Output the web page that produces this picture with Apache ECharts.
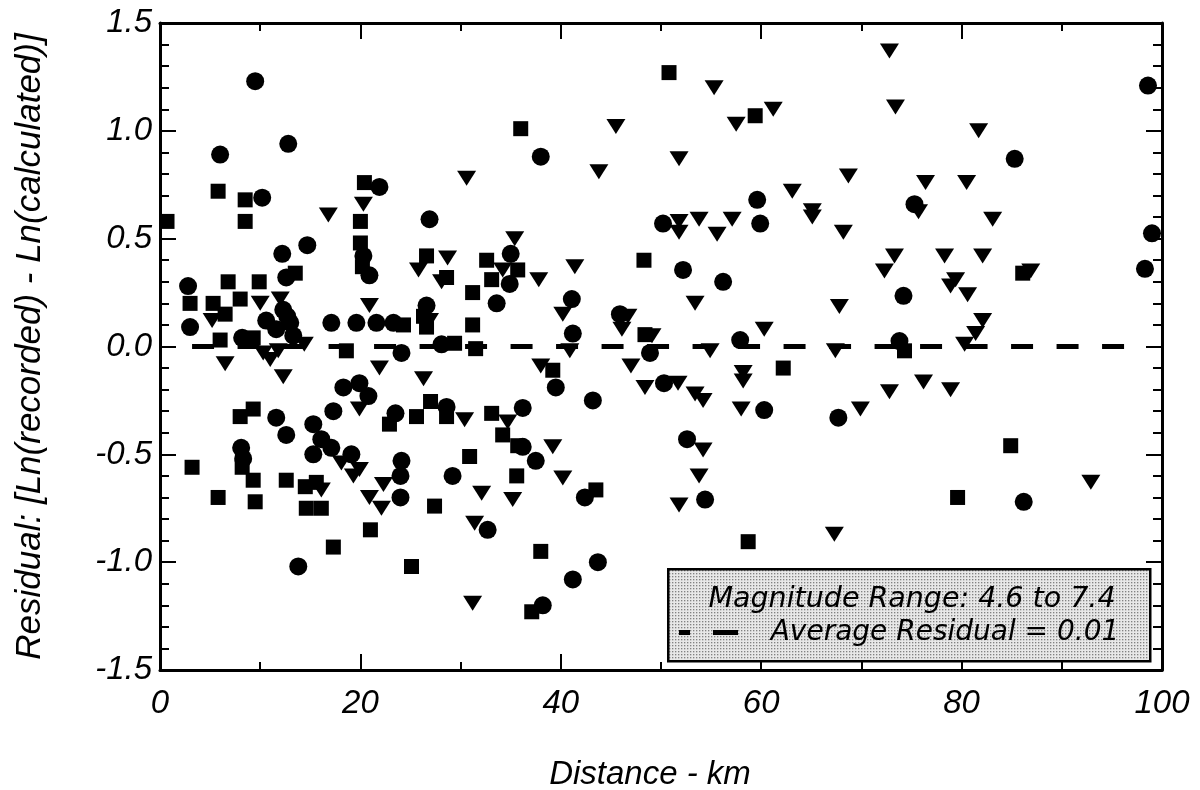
<!DOCTYPE html>
<html>
<head>
<meta charset="utf-8">
<script src="https://cdn.jsdelivr.net/npm/echarts@6/dist/echarts.min.js"></script>
<style>
html,body{margin:0;padding:0;background:#fff;}
#chart{width:1200px;height:790px;}
</style>
</head>
<body>
<div id="chart"></div>
<script>
// ---- data (distance km, residual) ----
const circles = [
  [9.5,1.23],[6.0,0.89],[12.8,0.94],[10.2,0.69],[21.9,0.74],[14.7,0.47],[12.2,0.43],[20.3,0.42],
  [20.9,0.33],[12.6,0.32],[2.8,0.28],[3.0,0.09],[10.6,0.12],[12.3,0.17],[13.0,0.11],[11.6,0.08],
  [13.3,0.05],[12.7,0.14],
  [17.1,0.11],[19.6,0.11],[21.6,0.11],[23.3,0.11],[8.2,0.04],[24.1,-0.03],[18.3,-0.19],[19.9,-0.17],
  [20.8,-0.23],[17.3,-0.30],[23.5,-0.31],[11.6,-0.33],[12.6,-0.41],[15.3,-0.36],[16.1,-0.43],[17.1,-0.47],
  [15.3,-0.50],[8.1,-0.47],[8.3,-0.52],[19.1,-0.50],[24.1,-0.53],[24.0,-0.60],[24.0,-0.70],[13.8,-1.02],
  [38.0,0.88],[26.9,0.59],[35.0,0.43],[34.9,0.29],[33.6,0.20],[41.1,0.22],[26.6,0.19],[45.9,0.15],
  [41.2,0.06],[28.1,0.01],[39.5,-0.19],[43.2,-0.25],[28.6,-0.28],[36.2,-0.285],[36.2,-0.465],[37.5,-0.53],
  [29.2,-0.60],[42.4,-0.70],[32.7,-0.85],[41.2,-1.08],[43.7,-1.00],[38.2,-1.20],[59.6,0.68],[50.2,0.57],
  [59.9,0.57],[52.2,0.355],[56.2,0.30],[57.9,0.03],[48.9,-0.03],[50.3,-0.17],[60.3,-0.295],[67.7,-0.33],
  [52.6,-0.43],[54.4,-0.71],[98.6,1.21],[85.3,0.87],[75.3,0.66],[99.0,0.525],[98.3,0.36],[74.2,0.235],
  [73.8,0.025],[86.2,-0.72]
];
const squares = [
  [5.8,0.72],[8.5,0.68],[0.7,0.58],[8.5,0.58],[20.4,0.76],[20.0,0.58],[20.0,0.48],[20.2,0.37],
  [13.5,0.34],[6.8,0.30],[9.9,0.30],[8.0,0.22],[3.0,0.20],[5.3,0.20],[6.5,0.15],[6.0,0.03],
  [9.3,0.04],[18.6,-0.02],[22.9,-0.36],[8.0,-0.325],[9.3,-0.29],[8.2,-0.56],[9.3,-0.62],[3.2,-0.56],
  [12.6,-0.62],[5.8,-0.70],[9.5,-0.72],[14.5,-0.65],[15.6,-0.63],[14.6,-0.75],[16.1,-0.75],[21.0,-0.85],
  [17.3,-0.93],[25.1,-1.02],[36.0,1.01],[26.6,0.42],[32.6,0.40],[28.6,0.32],[35.7,0.355],[33.1,0.31],
  [48.3,0.40],[31.2,0.25],[26.3,0.14],[26.6,0.09],[24.3,0.10],[31.2,0.10],[48.4,0.055],[29.4,0.015],
  [31.5,-0.01],[39.2,-0.11],[27.0,-0.255],[25.6,-0.325],[28.6,-0.325],[33.1,-0.31],[34.2,-0.41],[35.7,-0.46],
  [30.9,-0.51],[35.6,-0.60],[27.4,-0.74],[43.5,-0.665],[38.0,-0.95],[37.1,-1.23],[50.8,1.27],[59.4,1.07],
  [62.2,-0.10],[58.7,-0.905],[74.3,-0.02],[86.1,0.34],[84.9,-0.46],[79.6,-0.70]
];
const triangles = [
  [16.8,0.61],[20.3,0.66],[5.2,0.12],[10.0,0.20],[12.0,0.22],[20.9,0.19],[6.5,-0.08],[14.4,0.01],
  [10.3,-0.03],[11.0,-0.06],[12.3,-0.14],[11.8,-0.02],[21.9,-0.10],[19.9,-0.29],[18.1,-0.54],[19.3,-0.60],[19.9,-0.57],
  [16.1,-0.665],[22.3,-0.64],[20.9,-0.70],[22.1,-0.75],[45.5,1.02],[30.6,0.78],[43.8,0.81],[35.4,0.50],
  [28.7,0.41],[25.8,0.355],[28.1,0.30],[34.2,0.355],[37.8,0.31],[41.4,0.37],[26.9,0.12],[40.2,0.15],
  [46.7,0.14],[46.1,0.08],[40.9,-0.02],[26.3,-0.15],[38.0,-0.09],[47.0,-0.09],[48.4,-0.19],[30.4,-0.34],
  [34.7,-0.35],[39.2,-0.465],[32.1,-0.68],[35.2,-0.71],[40.2,-0.61],[31.4,-0.82],[31.2,-1.19],[55.3,1.20],
  [61.2,1.10],[57.5,1.03],[51.8,0.87],[68.7,0.79],[63.1,0.72],[65.1,0.63],[65.1,0.60],[51.8,0.58],
  [51.8,0.53],[53.8,0.59],[55.6,0.52],[57.1,0.59],[68.2,0.53],[53.4,0.20],[67.8,0.185],[60.3,0.08],
  [49.1,0.05],[54.9,-0.02],[67.4,-0.02],[58.2,-0.12],[58.2,-0.16],[51.7,-0.17],[53.4,-0.22],[54.2,-0.25],
  [58.0,-0.29],[69.9,-0.29],[54.2,-0.48],[53.8,-0.60],[51.8,-0.735],[67.3,-0.87],[72.8,1.37],[73.4,1.11],
  [81.7,1.00],[76.4,0.76],[80.5,0.76],[75.7,0.625],[83.1,0.59],[73.3,0.42],[72.3,0.35],[78.3,0.42],
  [82.1,0.42],[86.9,0.35],[79.4,0.31],[78.9,0.28],[80.6,0.24],[82.1,0.12],[81.4,0.06],[80.3,0.01],
  [76.2,-0.165],[72.8,-0.21],[78.9,-0.20],[92.9,-0.63]
];
const averageLine = [[3.2,0.0],[98.0,0.0]];
const legendLine1 = 'Magnitude Range: 4.6 to 7.4';
const legendLine2 = 'Average Residual = 0.01';
const xTitle = 'Distance - km';
const yTitle = 'Residual: [Ln(recorded) - Ln(calculated)]';

// ---- stipple pattern for the note box ----
const pat = document.createElement('canvas');
pat.width = 3; pat.height = 3;
const pctx = pat.getContext('2d');
pctx.fillStyle = '#e8e8e8'; pctx.fillRect(0,0,3,3);
pctx.fillStyle = '#333'; pctx.fillRect(1,1,1,1);

const FONT = '"Liberation Sans", Arial, sans-serif';
const LFONT = 'DejaVu Sans';
const chart = echarts.init(document.getElementById('chart'), null, {renderer:'canvas'});

const axisLineStyle = {color:'#000', width:3};
const baseX = {
  type:'value', min:0, max:100, interval:20,
  splitLine:{show:false},
  axisLine:{show:true, onZero:false, lineStyle:axisLineStyle},
  axisTick:{show:true, inside:true, length:16, lineStyle:{color:'#000', width:2}},
  minorTick:{show:true, splitNumber:2, length:8, lineStyle:{color:'#000', width:2}},
  minorSplitLine:{show:false}
};
const baseY = {
  type:'value', min:-1.5, max:1.5, interval:0.5,
  splitLine:{show:false},
  axisLine:{show:true, onZero:false, lineStyle:axisLineStyle},
  axisTick:{show:true, inside:true, length:16, lineStyle:{color:'#000', width:2}},
  minorTick:{show:true, splitNumber:5, length:9, lineStyle:{color:'#000', width:2}},
  minorSplitLine:{show:false}
};

chart.setOption({
  animation:false,
  backgroundColor:'#fff',
  grid:{left:160, right:38, top:23, bottom:120, outerBoundsMode:'none'},
  xAxis:[
    Object.assign({}, baseX, {
      position:'bottom',
      name:xTitle, nameLocation:'middle', nameGap:88,
      nameTextStyle:{fontFamily:FONT, fontStyle:'italic', fontSize:33, color:'#000', padding:[0,22,0,0]},
      axisLabel:{fontFamily:FONT, fontStyle:'italic', fontSize:33, color:'#000', margin:17}
    }),
    Object.assign({}, baseX, {position:'top', axisLabel:{show:false}})
  ],
  yAxis:[
    Object.assign({}, baseY, {
      position:'left',
      name:yTitle, nameLocation:'middle', nameGap:112, nameRotate:90,
      nameTextStyle:{fontFamily:FONT, fontStyle:'italic', fontSize:35, color:'#000'},
      axisLabel:{fontFamily:FONT, fontStyle:'italic', fontSize:33, color:'#000', margin:8,
        formatter:v => v.toFixed(1)}
    }),
    Object.assign({}, baseY, {position:'right', axisLabel:{show:false}})
  ],
  series:[
    {type:'line', data:averageLine, symbol:'none', silent:true, z:1,
     lineStyle:{color:'#000', width:5, type:[22,23.5], cap:'butt'}},
    {type:'scatter', data:squares, symbol:'rect', symbolSize:15, z:3,
     itemStyle:{color:'#000', opacity:1}},
    {type:'scatter', data:circles, symbol:'circle', symbolSize:18, z:3,
     itemStyle:{color:'#000', opacity:1}},
    {type:'scatter', data:triangles, symbol:'triangle', symbolSize:[19,15], symbolRotate:180, z:3,
     itemStyle:{color:'#000', opacity:1}}
  ],
  graphic:[
    {type:'rect', left:667, top:568, z:50,
     shape:{width:482, height:92},
     style:{fill:{image:pat, repeat:'repeat'}, stroke:'#000', lineWidth:2.5}},
    {type:'text', z:51, x:912, y:600,
     style:{text:legendLine1, fontFamily:LFONT, fontStyle:'italic', fontSize:28.5, fill:'#000',
       align:'center', verticalAlign:'middle'}},
    {type:'rect', z:51, shape:{x:679, y:630, width:11, height:5}, style:{fill:'#000'}},
    {type:'rect', z:51, shape:{x:713, y:630, width:25, height:5}, style:{fill:'#000'}},
    {type:'text', z:51, x:945, y:633,
     style:{text:legendLine2, fontFamily:LFONT, fontStyle:'italic', fontSize:28, fill:'#000',
       align:'center', verticalAlign:'middle'}}
  ]
});
</script>
</body>
</html>
